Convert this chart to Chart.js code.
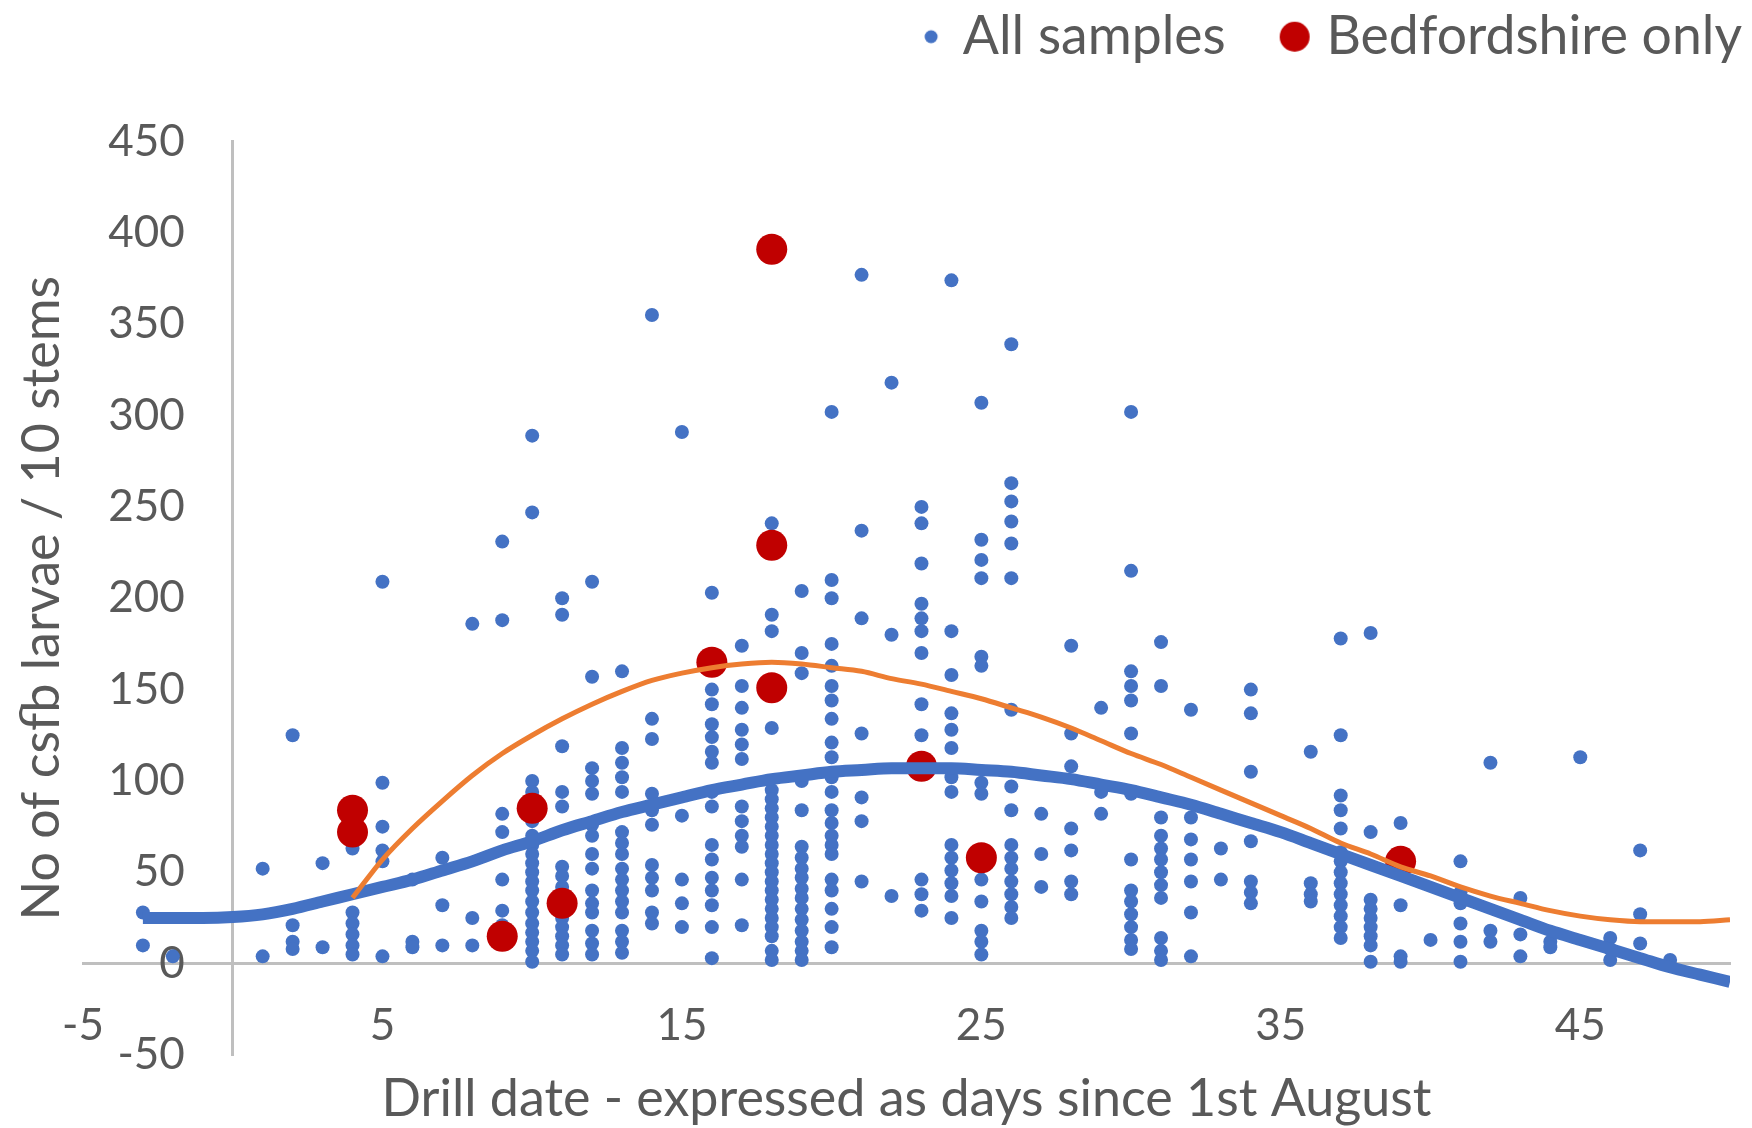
<!DOCTYPE html>
<html>
<head>
<meta charset="utf-8">
<script src="https://cdn.jsdelivr.net/npm/chart.js@4.4.1/dist/chart.umd.min.js"></script>
<style>
  html, body { margin: 0; padding: 0; background: #ffffff; }
  #wrap { width: 1752px; height: 1128px; }
</style>
</head>
<body>
<div id="wrap"><canvas id="c" width="1752" height="1128"></canvas></div>
<script>
// ---- Tick labels ----
const xTickValues = [-5, 5, 15, 25, 35, 45];
const yTickStep = 50;

// ---- All samples: drill day and the larvae counts read at that day ----
const allDays = [-3, -2, 1, 2, 3, 4, 5, 6, 7, 8, 9, 10, 11, 12, 13, 14, 15, 16, 17, 18, 19, 20,
  21, 22, 23, 24, 25, 26, 27, 28, 29, 30, 31, 32, 33, 34, 36, 37, 38, 39, 40, 41, 42, 43, 44, 45, 46, 47, 48];
const allCounts = [
  [28, 10],
  [4],
  [52, 4],
  [125, 21, 12, 8],
  [55, 9],
  [63, 28, 22, 16, 10, 5],
  [209, 99, 75, 62, 56, 4],
  [46, 12, 9],
  [58, 32, 10],
  [186, 25, 10],
  [231, 188, 82, 72, 46, 29, 21, 11],
  [289, 247, 100, 94, 78, 70, 65, 60, 55, 50, 45, 40, 34, 28, 22, 17, 12, 7, 1],
  [200, 191, 119, 94, 86, 53, 48, 42, 37, 30, 25, 20, 15, 10, 5],
  [209, 157, 107, 100, 93, 76, 70, 60, 52, 40, 33, 28, 18, 11, 5],
  [160, 118, 110, 102, 94, 72, 66, 60, 52, 46, 40, 34, 28, 18, 12, 6],
  [355, 134, 123, 93, 84, 76, 54, 47, 40, 28, 22],
  [291, 81, 46, 33, 20],
  [203, 150, 142, 131, 124, 116, 110, 94, 86, 65, 57, 47, 40, 32, 20, 3],
  [174, 152, 140, 128, 120, 112, 86, 78, 70, 64, 46, 21],
  [241, 191, 182, 129, 95, 90, 85, 80, 75, 70, 65, 60, 55, 50, 45, 40, 35, 30, 25, 20, 15, 7, 2],
  [204, 170, 159, 100, 84, 64, 58, 52, 47, 41, 36, 30, 24, 18, 12, 7, 2],
  [302, 210, 200, 175, 163, 152, 144, 134, 121, 113, 102, 94, 84, 77, 70, 65, 60, 46, 40, 30, 20, 9],
  [377, 237, 189, 126, 91, 78, 45],
  [318, 180, 37],
  [250, 241, 219, 197, 189, 182, 170, 142, 125, 46, 38, 29],
  [374, 182, 158, 137, 128, 118, 102, 94, 65, 58, 51, 44, 37, 25],
  [307, 232, 221, 211, 168, 163, 99, 93, 46, 34, 18, 12, 5],
  [339, 263, 253, 242, 230, 211, 139, 97, 84, 65, 58, 52, 45, 38, 31, 25],
  [82, 60, 42],
  [174, 126, 108, 74, 62, 45, 38],
  [140, 94, 82],
  [302, 215, 160, 152, 144, 126, 93, 57, 40, 34, 27, 20, 13, 8],
  [176, 152, 80, 70, 63, 57, 50, 43, 36, 14, 7, 2],
  [139, 80, 68, 57, 45, 28, 4],
  [63, 46],
  [150, 137, 105, 67, 45, 39, 33],
  [116, 44, 38, 34],
  [178, 125, 92, 84, 74, 61, 56, 50, 44, 38, 32, 26, 20, 14],
  [181, 72, 35, 30, 25, 20, 15, 10, 1],
  [77, 32, 4, 1],
  [13],
  [56, 39, 33, 22, 12, 1],
  [110, 18, 12],
  [36, 16, 4],
  [12, 9],
  [113],
  [14, 8, 2],
  [62, 27, 11],
  [2]
];

// ---- Bedfordshire only ----
const bedsDays = [4, 4, 9, 10, 11, 16, 18, 18, 18, 23, 25, 39];
const bedsCounts = [84, 72, 15, 85, 33, 165, 391, 229, 151, 108, 58, 56];

// ---- Trend lines ----
const trendAllX = [-3, -1, 0, 1, 2, 3, 4, 5, 6, 7, 8, 9, 10, 11, 12, 13, 14, 15, 16, 17, 18, 19, 20, 21, 22, 23, 24, 25,
  26, 27, 28, 29, 30, 31, 32, 33, 34, 35, 36, 37, 38, 39, 40, 41, 42, 43, 44, 45, 46, 47, 48, 49, 50];
const trendAllY = [25, 25, 25.5, 27, 30, 34, 38, 42, 46, 51, 56, 62, 67, 73, 78, 83, 87, 91, 95, 98, 101, 103, 105, 106, 107, 107, 107, 106,
  105, 103, 101, 98, 95, 91, 87, 82, 77, 72, 66, 60, 54, 48, 42, 36, 30, 24, 18, 13, 8, 3, -2, -6, -10];
const trendBedsX = [4, 5, 6, 7, 8, 9, 10, 11, 12, 13, 14, 15, 16, 17, 18, 19, 20, 21, 22, 23, 24, 25, 26, 27,
  28, 29, 30, 31, 32, 33, 34, 35, 36, 37, 38, 39, 40, 41, 42, 43, 44, 45, 46, 47, 48, 49, 50];
const trendBedsY = [36, 57, 74, 89, 103, 115, 125, 134, 142, 149, 155, 159, 162, 164, 165, 164, 162, 160, 156, 153, 149, 145, 140, 135,
  129, 122, 115, 109, 102, 95, 88, 81, 74, 66, 60, 53, 48, 42, 37, 33, 29, 26, 24, 23, 23, 23, 24];

// ---- Labels ----
const seriesNames = ['All samples', 'Bedfordshire only'];
const xTitle = 'Drill date - expressed as days since 1st August';
const yTitle = 'No of csfb larvae / 10 stems';

const BLUE = '#4472C4', RED = '#C00000', ORANGE = '#ED7D31', GREY_TXT = '#595959', AXIS = '#BFBFBF';
const FONT = 'Lato';

const allPoints = [];
allDays.forEach((d, i) => allCounts[i].forEach(v => allPoints.push({x: d, y: v})));
const bedsPoints = bedsDays.map((d, i) => ({x: d, y: bedsCounts[i]}));
const trendAll = trendAllX.map((x, i) => ({x, y: trendAllY[i]}));
const trendBeds = trendBedsX.map((x, i) => ({x, y: trendBedsY[i]}));

// legend markers (different sizes like the original)
function marker(color, r) {
  const cv = document.createElement('canvas');
  cv.width = 100; cv.height = 36;
  const g = cv.getContext('2d');
  g.fillStyle = color;
  g.beginPath(); g.arc(77, 18, r, 0, Math.PI * 2); g.fill();
  return cv;
}
const legendMarkers = [marker(BLUE, 6.5), marker(RED, 15)];

const hiddenAxisBase = {
  type: 'linear', display: true,
  ticks: {display: false},
  grid: {display: false, drawTicks: false},
  border: {display: false}
};

new Chart(document.getElementById('c'), {
  type: 'scatter',
  data: {
    datasets: [
      {label: seriesNames[0], data: allPoints, backgroundColor: BLUE, borderColor: BLUE,
       pointRadius: 7, pointBorderWidth: 0, order: 3, xAxisID: 'x', yAxisID: 'y'},
      {label: seriesNames[1], data: bedsPoints, backgroundColor: RED, borderColor: RED,
       pointRadius: 15.5, pointBorderWidth: 0, order: 2, xAxisID: 'x', yAxisID: 'y'},
      {label: 'trend beds', data: trendBeds, showLine: true, borderColor: ORANGE, borderWidth: 5,
       pointRadius: 0, cubicInterpolationMode: 'monotone', fill: false, order: 0, xAxisID: 'x', yAxisID: 'y'},
      {label: 'trend all', data: trendAll, showLine: true, borderColor: BLUE, borderWidth: 12,
       pointRadius: 0, cubicInterpolationMode: 'monotone', fill: false, order: 1, xAxisID: 'x', yAxisID: 'y'}
    ]
  },
  options: {
    responsive: false,
    animation: false,
    devicePixelRatio: 1,
    layout: {padding: 0},
    plugins: {
      tooltip: {enabled: false},
      legend: {
        display: true,
        position: 'top',
        align: 'end',
        labels: {
          usePointStyle: true,
          pointStyleWidth: 64,
          padding: 10,
          color: GREY_TXT,
          font: {family: FONT, size: 53.5},
          generateLabels: (chart) => Chart.defaults.plugins.legend.labels.generateLabels(chart).map(item => {
            if (item.datasetIndex < 2) item.pointStyle = legendMarkers[item.datasetIndex];
            return item;
          }),
          filter: (item) => item.datasetIndex < 2,
          sort: (a, b) => a.datasetIndex - b.datasetIndex
        }
      }
    },
    scales: {
      x: {
        type: 'linear',
        position: {y: 0},
        min: -5, max: 50,
        afterBuildTicks: (axis) => { axis.ticks = xTickValues.map(v => ({value: v})); },
        ticks: {autoSkip: false, color: GREY_TXT, font: {family: FONT, size: 44}, padding: 36, maxRotation: 0},
        grid: {display: true, drawOnChartArea: false, drawTicks: false},
        border: {display: true, color: AXIS, width: 3}
      },
      // value axis: its labels sit a little to the left of the x = 0 line, as in the original
      y: {
        type: 'linear',
        position: {x: -1.6},
        min: -50, max: 450,
        ticks: {stepSize: yTickStep, color: GREY_TXT, font: {family: FONT, size: 44}},
        grid: {display: true, drawOnChartArea: false, drawTicks: false},
        border: {display: false}
      },
      // the vertical axis line itself, crossing at x = 0
      y0: {
        type: 'linear',
        position: {x: 0},
        min: -50, max: 450,
        ticks: {display: false},
        grid: {display: true, drawOnChartArea: false, drawTicks: false},
        border: {display: true, color: AXIS, width: 3}
      },
      xTop: Object.assign({}, hiddenAxisBase, {position: 'top', afterFit: (s) => { s.height = 68; }}),
      yR: Object.assign({}, hiddenAxisBase, {position: 'right', afterFit: (s) => { s.width = 22; }}),
      yT: Object.assign({}, hiddenAxisBase, {
        position: 'left',
        title: {display: true, text: yTitle, color: GREY_TXT, font: {family: FONT, size: 52}, padding: {top: 11, bottom: 9.6}}
      }),
      xT: Object.assign({}, hiddenAxisBase, {
        position: 'bottom',
        title: {display: true, text: xTitle, color: GREY_TXT, font: {family: FONT, size: 52, lineHeight: 1.0}, padding: {top: 18, bottom: 3}}
      })
    }
  }
});
</script>
</body>
</html>
